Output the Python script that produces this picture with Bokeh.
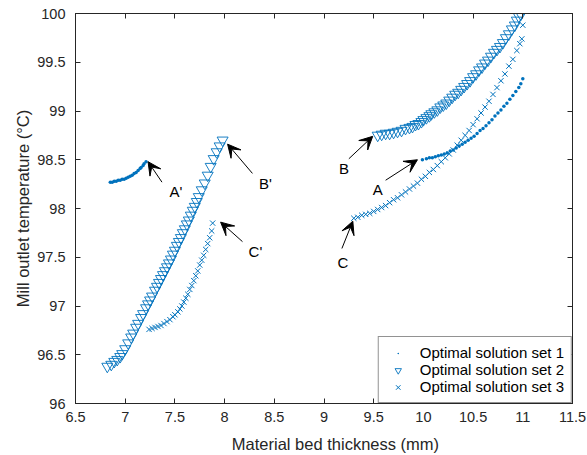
from bokeh.plotting import figure
from bokeh.models import (Range1d, FixedTicker, LinearAxis, Arrow, VeeHead, Label,
                          Legend, LegendItem, ColumnDataSource)
from bokeh.embed import file_html
from bokeh.resources import INLINE

# ---- data -------------------------------------------------------------
# Optimal solution set 1 (two branches: A' and A)
set1_a1_x = [6.85, 6.87, 6.89, 6.91, 6.93, 6.95, 6.97, 6.99, 7.01, 7.03, 7.05, 7.07,
             7.09, 7.11, 7.13, 7.15, 7.16, 7.18, 7.19, 7.21]
set1_a1_y = [98.27, 98.27, 98.28, 98.28, 98.29, 98.29, 98.30, 98.30, 98.31, 98.32, 98.33, 98.34,
             98.36, 98.37, 98.39, 98.41, 98.42, 98.44, 98.46, 98.48]
set1_a_x = [9.99, 10.03, 10.06, 10.09, 10.12, 10.15, 10.18, 10.21, 10.24, 10.27, 10.30, 10.33,
            10.36, 10.39, 10.42, 10.45, 10.48, 10.51, 10.54, 10.57, 10.60, 10.63, 10.66, 10.69,
            10.72, 10.75, 10.78, 10.81, 10.84, 10.87, 10.90, 10.93, 10.96, 10.98, 11.00]
set1_a_y = [98.50, 98.51, 98.52, 98.52, 98.53, 98.54, 98.55, 98.56, 98.57, 98.59, 98.60, 98.62,
            98.64, 98.66, 98.68, 98.70, 98.72, 98.74, 98.77, 98.80, 98.82, 98.85, 98.88, 98.91,
            98.95, 98.98, 99.01, 99.05, 99.08, 99.12, 99.16, 99.20, 99.24, 99.28, 99.33]

# Optimal solution set 2 (branches B' and B)
set2_b1_x = [6.82, 6.86, 6.89, 6.92, 6.95, 6.97, 7.00, 7.03, 7.06, 7.08, 7.11, 7.13, 7.16,
             7.18, 7.21, 7.23, 7.25, 7.27, 7.30, 7.32, 7.34, 7.36, 7.38, 7.40, 7.42, 7.44,
             7.46, 7.48, 7.50, 7.52, 7.54, 7.56, 7.58, 7.60, 7.62, 7.64, 7.66, 7.68, 7.70,
             7.72, 7.74, 7.77, 7.80, 7.83, 7.86, 7.89, 7.92, 7.95, 7.98]
set2_b1_y = [96.38, 96.40, 96.43, 96.45, 96.48, 96.51, 96.56, 96.62, 96.68, 96.72, 96.78, 96.82,
             96.88, 96.92, 96.98, 97.02, 97.06, 97.10, 97.16, 97.20, 97.24, 97.28, 97.32, 97.36,
             97.40, 97.44, 97.48, 97.53, 97.57, 97.62, 97.66, 97.70, 97.75, 97.79, 97.84, 97.88,
             97.93, 97.98, 98.02, 98.07, 98.12, 98.19, 98.26, 98.34, 98.43, 98.51, 98.58, 98.64,
             98.70]
set2_b_x = [9.54, 9.58, 9.62, 9.66, 9.70, 9.74, 9.78, 9.82, 9.86, 9.89, 9.92, 9.95, 9.98,
            10.00, 10.03, 10.06, 10.08, 10.11, 10.14, 10.17, 10.20, 10.23, 10.26, 10.29, 10.32,
            10.35, 10.38, 10.41, 10.44, 10.47, 10.50, 10.53, 10.56, 10.59, 10.62, 10.65, 10.68,
            10.71, 10.74, 10.77, 10.80, 10.83, 10.86, 10.89, 10.92, 10.94, 10.96, 10.98]
set2_b_y = [98.75, 98.76, 98.77, 98.77, 98.78, 98.79, 98.80, 98.82, 98.83, 98.84, 98.86, 98.87,
            98.89, 98.91, 98.93, 98.95, 98.97, 98.99, 99.01, 99.04, 99.06, 99.08, 99.11, 99.14,
            99.17, 99.19, 99.22, 99.25, 99.28, 99.31, 99.35, 99.38, 99.42, 99.45, 99.49, 99.52,
            99.56, 99.60, 99.63, 99.66, 99.70, 99.75, 99.79, 99.84, 99.88, 99.93, 99.97, 99.99]

# Optimal solution set 3 (branches C' and C)
set3_c1_x = [7.24, 7.27, 7.30, 7.33, 7.36, 7.39, 7.42, 7.45, 7.48, 7.50, 7.53, 7.55, 7.57,
             7.59, 7.61, 7.63, 7.65, 7.67, 7.69, 7.71, 7.73, 7.75, 7.77, 7.79, 7.81, 7.83,
             7.85, 7.87, 7.88]
set3_c1_y = [96.76, 96.77, 96.78, 96.79, 96.80, 96.82, 96.84, 96.86, 96.89, 96.91, 96.94, 96.97,
             97.00, 97.04, 97.08, 97.12, 97.17, 97.21, 97.26, 97.31, 97.36, 97.42, 97.47, 97.52,
             97.58, 97.64, 97.70, 97.77, 97.85]
set3_c_x = [9.30, 9.34, 9.38, 9.42, 9.46, 9.50, 9.54, 9.58, 9.62, 9.66, 9.70, 9.74, 9.78,
            9.82, 9.86, 9.90, 9.94, 9.98, 10.02, 10.06, 10.10, 10.14, 10.18, 10.22, 10.26,
            10.30, 10.34, 10.38, 10.42, 10.46, 10.50, 10.54, 10.58, 10.62, 10.66, 10.70, 10.74,
            10.78, 10.82, 10.86, 10.90, 10.94, 10.97, 10.99, 11.00]
set3_c_y = [97.90, 97.91, 97.93, 97.94, 97.95, 97.97, 97.99, 98.01, 98.03, 98.06, 98.09, 98.11,
            98.14, 98.17, 98.20, 98.23, 98.26, 98.30, 98.33, 98.37, 98.40, 98.44, 98.48, 98.52,
            98.56, 98.60, 98.65, 98.70, 98.75, 98.80, 98.86, 98.92, 98.98, 99.04, 99.10, 99.17,
            99.24, 99.31, 99.38, 99.46, 99.53, 99.62, 99.69, 99.74, 99.88]

# axis ticks
x_ticks = [6.5, 7, 7.5, 8, 8.5, 9, 9.5, 10, 10.5, 11, 11.5]
x_tick_labels = ["6.5", "7", "7.5", "8", "8.5", "9", "9.5", "10", "10.5", "11", "11.5"]
y_ticks = [96, 96.5, 97, 97.5, 98, 98.5, 99, 99.5, 100]
y_tick_labels = ["96", "96.5", "97", "97.5", "98", "98.5", "99", "99.5", "100"]

# annotation labels: text, label position, arrow tail, arrow tip
annot_text = ["A'", "B'", "C'", "A", "B", "C"]
annot_lx = [7.51, 8.41, 8.31, 9.54, 9.20, 9.19]
annot_ly = [98.17, 98.26, 97.56, 98.19, 98.41, 97.45]
arrow_x0 = [7.37, 8.28, 8.18, 9.62, 9.25, 9.18]
arrow_y0 = [98.27, 98.36, 97.66, 98.29, 98.51, 97.59]
arrow_x1 = [7.23, 8.03, 7.96, 9.94, 9.49, 9.29]
arrow_y1 = [98.48, 98.66, 97.86, 98.50, 98.74, 97.87]

# ---- figure -----------------------------------------------------------
BLUE = "#0072BD"
AX = "#262626"
FONT = "Liberation Sans"
NBSP = "\u00a0"

p = figure(width=587, height=455, x_range=Range1d(6.5, 11.5), y_range=Range1d(96, 100),
           output_backend="svg", toolbar_location=None,
           min_border_left=75, min_border_right=15, min_border_top=13, min_border_bottom=51)
p.xgrid.visible = False
p.ygrid.visible = False
p.outline_line_color = AX
p.outline_line_width = 1
p.background_fill_color = "white"
p.border_fill_color = "white"

def style_axis(ax, ticks, labels):
    ax.ticker = FixedTicker(ticks=ticks)
    ax.major_label_overrides = {t: s for t, s in zip(ticks, labels)}
    ax.minor_tick_line_color = None
    ax.major_tick_in = 5
    ax.major_tick_out = 0
    ax.axis_line_color = AX
    ax.major_tick_line_color = AX
    ax.major_label_text_color = AX
    ax.major_label_text_font = FONT
    ax.major_label_text_font_size = "14.5px"
    ax.axis_label_text_font = FONT
    ax.axis_label_text_font_size = "16.5px"
    ax.axis_label_text_font_style = "normal"
    ax.axis_label_text_color = AX

style_axis(p.xaxis[0], x_ticks, x_tick_labels)
style_axis(p.yaxis[0], y_ticks, y_tick_labels)
# leading no-break spaces nudge the x title slightly right of the frame centre
p.xaxis.axis_label = NBSP * 5 + "Material bed thickness (mm)"
p.yaxis.axis_label = "Mill outlet temperature (°C)"
p.xaxis.major_label_standoff = 8
p.yaxis.major_label_standoff = 10
p.xaxis.axis_label_standoff = 10
p.yaxis.axis_label_standoff = 2

# tick marks on the opposite sides of the box (no labels there)
for side in ("above", "right"):
    ax = LinearAxis()
    style_axis(ax, x_ticks if side == "above" else y_ticks,
               x_tick_labels if side == "above" else y_tick_labels)
    ax.major_label_text_color = None
    ax.major_label_text_font_size = "1px"
    ax.major_label_standoff = 0
    ax.axis_label = None
    p.add_layout(ax, side)

src1 = ColumnDataSource(dict(x=set1_a1_x + set1_a_x, y=set1_a1_y + set1_a_y))
src2 = ColumnDataSource(dict(x=set2_b1_x + set2_b_x, y=set2_b1_y + set2_b_y))
src3 = ColumnDataSource(dict(x=set3_c1_x + set3_c_x, y=set3_c1_y + set3_c_y))

r1 = p.scatter("x", "y", source=src1, marker="dot", size=14,
               fill_color=BLUE, line_color=BLUE, line_width=1)
r2 = p.scatter("x", "y", source=src2, marker="inverted_triangle", size=11,
               fill_color=None, line_color=BLUE, line_width=0.9)
r3 = p.scatter("x", "y", source=src3, marker="x", size=7.5,
               line_color=BLUE, line_width=1)

for i in range(len(annot_text)):
    p.add_layout(Arrow(x_start=arrow_x0[i], y_start=arrow_y0[i],
                       x_end=arrow_x1[i], y_end=arrow_y1[i],
                       line_color="black", line_width=1,
                       end=VeeHead(size=13, fill_color="black", line_color="black",
                                   line_width=1)))
    p.add_layout(Label(x=annot_lx[i], y=annot_ly[i], text=annot_text[i],
                       text_font=FONT, text_font_size="15px", text_color="black",
                       text_align="center", text_baseline="middle"))

legend = Legend(items=[LegendItem(label="Optimal solution set 1", renderers=[r1]),
                       LegendItem(label="Optimal solution set 2", renderers=[r2]),
                       LegendItem(label="Optimal solution set 3", renderers=[r3])],
                location="bottom_right", margin=0, padding=7, spacing=0,
                glyph_width=24, glyph_height=16, label_height=16, label_standoff=10,
                label_text_font=FONT, label_text_font_size="15px", label_text_color="black",
                border_line_color=AX, border_line_width=1, background_fill_alpha=1)
p.add_layout(legend)

open("out.html", "w").write(file_html(p, INLINE))
